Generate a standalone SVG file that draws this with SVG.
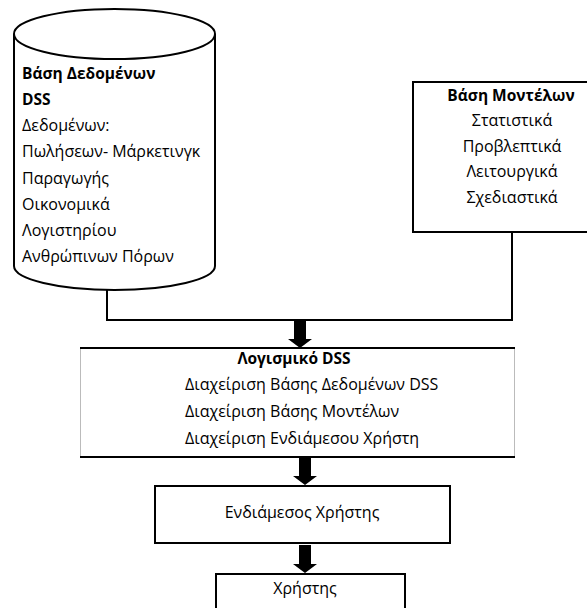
<svg xmlns="http://www.w3.org/2000/svg" width="587" height="608" viewBox="0 0 587 608">
  <style>
    .shape { fill: #ffffff; stroke: #000000; stroke-width: 2; }
    .wire { fill: none; stroke: #000000; stroke-width: 2; }
    .txt { font-family: "Open Sans", "Noto Sans", "DejaVu Sans", sans-serif; font-size: 16px; fill: #000000; }
    .b { font-weight: bold; font-size: 15.5px; }
    .mid { text-anchor: middle; }
    .arrow { fill: #000000; stroke: none; }
  </style>
  <defs>
    <!-- block arrow pointing down, origin at top centre, 28 tall -->
    <path id="blockArrow" d="M-6,0 H6 V19 H12 L0,28 L-12,19 H-6 Z"/>
  </defs>
  <rect width="587" height="608" fill="#ffffff"/>

  <!-- connectors -->
  <g id="connectors">
    <path class="wire" d="M107,288 V320 H512 V232"/>
    <use href="#blockArrow" class="arrow" x="300" y="320"/>
    <use href="#blockArrow" class="arrow" x="305" y="457"/>
    <use href="#blockArrow" class="arrow" x="305" y="545"/>
  </g>

  <!-- DSS database cylinder -->
  <g id="database">
    <path class="shape" d="M14,34 V266 A100.5,24 0 0 0 215,266 V34"/>
    <ellipse class="shape" cx="114.5" cy="34" rx="100.5" ry="25"/>
    <text class="txt b" x="22" y="79">Βάση Δεδομένων</text>
    <text class="txt b" x="22" y="105">DSS</text>
    <text class="txt" x="22" y="131">Δεδομένων:</text>
    <text class="txt" x="22" y="157">Πωλήσεων- Μάρκετινγκ</text>
    <text class="txt" x="22" y="184">Παραγωγής</text>
    <text class="txt" x="22" y="210">Οικονομικά</text>
    <text class="txt" x="22" y="236">Λογιστηρίου</text>
    <text class="txt" x="22" y="262">Ανθρώπινων Πόρων</text>
  </g>

  <!-- model base -->
  <g id="models">
    <rect class="shape" x="413" y="82" width="198" height="150"/>
    <text class="txt b mid" x="511" y="101">Βάση Μοντέλων</text>
    <text class="txt mid" x="512" y="126">Στατιστικά</text>
    <text class="txt mid" x="512" y="152">Προβλεπτικά</text>
    <text class="txt mid" x="512" y="177">Λειτουργικά</text>
    <text class="txt mid" x="512" y="203">Σχεδιαστικά</text>
  </g>

  <!-- DSS software -->
  <g id="software">
    <rect x="80" y="348" width="435" height="109" fill="#ffffff"/>
    <line x1="80.5" y1="348" x2="80.5" y2="457" stroke="#bbbbbb" stroke-width="1"/>
    <line x1="514.5" y1="348" x2="514.5" y2="457" stroke="#bbbbbb" stroke-width="1"/>
    <line x1="80" y1="348" x2="515" y2="348" stroke="#000000" stroke-width="2"/>
    <line x1="80" y1="457" x2="515" y2="457" stroke="#000000" stroke-width="2"/>
    <text class="txt b mid" x="294" y="364">Λογισμικό DSS</text>
    <text class="txt" x="185" y="390">Διαχείριση Βάσης Δεδομένων DSS</text>
    <text class="txt" x="185" y="417">Διαχείριση Βάσης Μοντέλων</text>
    <text class="txt" x="185" y="444">Διαχείριση Ενδιάμεσου Χρήστη</text>
  </g>

  <!-- user interface -->
  <g id="interface">
    <rect class="shape" x="155" y="486" width="295" height="57"/>
    <text class="txt mid" x="302" y="518">Ενδιάμεσος Χρήστης</text>
  </g>

  <!-- user -->
  <g id="user">
    <rect class="shape" x="216" y="574" width="189" height="50"/>
    <text class="txt mid" x="305" y="594">Χρήστης</text>
  </g>
</svg>
